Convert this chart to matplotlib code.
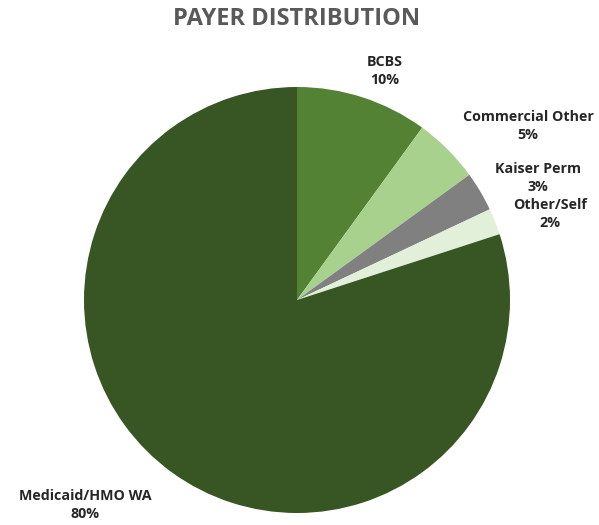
import matplotlib.pyplot as plt

# Data
payers = ["BCBS", "Commercial Other", "Kaiser Perm", "Other/Self", "Medicaid/HMO WA"]
shares = [10, 5, 3, 2, 80]
colors = ["#548235", "#A9D18E", "#808080", "#E2F0D9", "#375623"]

# label centres in pixels (x, y from top) -- layout only
label_pos = [(385, 71), (528, 126), (538, 178), (550, 214), (85, 505)]

W, H = 599, 525
plt.rcParams['font.family'] = ['Open Sans', 'DejaVu Sans']
fig = plt.figure(figsize=(W / 100, H / 100), dpi=100)

cx, cy, r = 297, 300, 213
ax = fig.add_axes([(cx - r) / W, 1 - (cy + r) / H, 2 * r / W, 2 * r / H])
ax.pie(shares, colors=colors, startangle=90, counterclock=False,
       wedgeprops=dict(linewidth=0))
ax.set_xlim(-1, 1)
ax.set_ylim(-1, 1)
ax.axis('off')

for name, val, (px, py) in zip(payers, shares, label_pos):
    fig.text(px / W, 1 - py / H, f"{name}\n{val}%", ha='center', va='center',
             fontsize=10.3, fontweight='bold', color='#262626', linespacing=1.3)

fig.text(297 / W, 1 - 19 / H, "PAYER DISTRIBUTION", ha='center', va='center',
         fontsize=17, fontweight='bold', color='#595959')

fig.savefig("out.png", dpi=100)
